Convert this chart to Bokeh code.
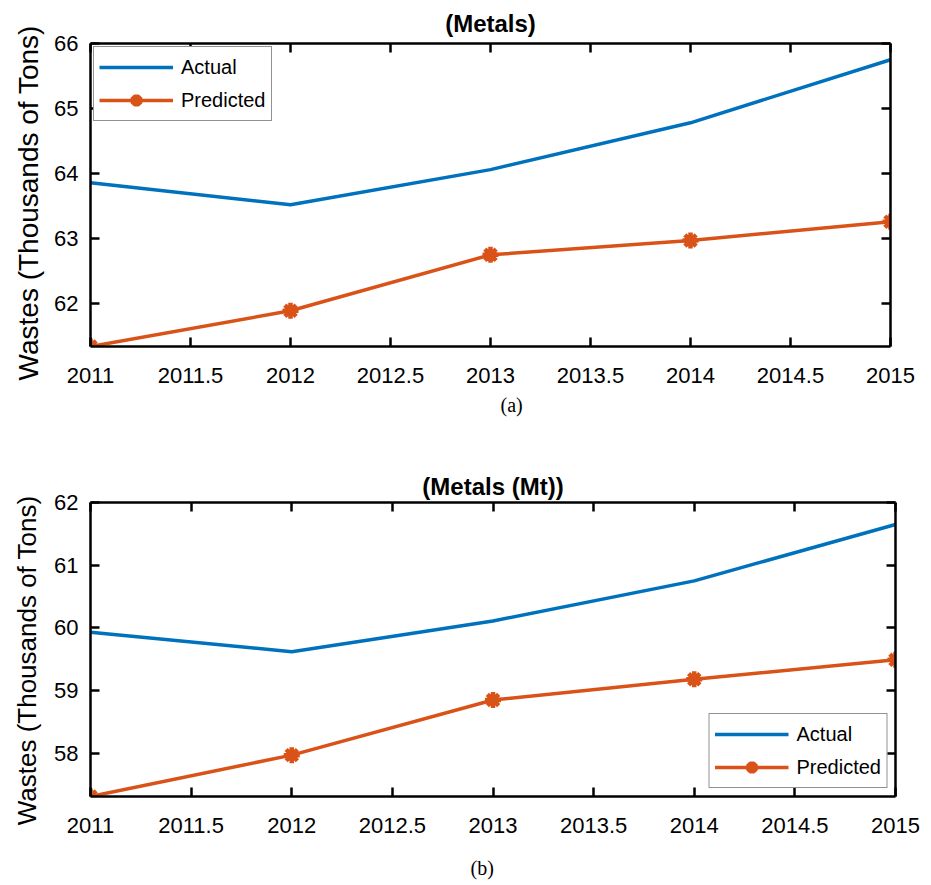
from bokeh.plotting import figure
from bokeh.layouts import column
from bokeh.models import (FixedTicker, LinearAxis, Range1d, Title, Legend,
                          LegendItem, CustomJSTickFormatter)
from bokeh.embed import file_html
from bokeh.resources import INLINE

years = [2011, 2012, 2013, 2014, 2015]
actual_a = [63.86, 63.52, 64.06, 64.78, 65.75]
pred_a = [61.34, 61.89, 62.75, 62.97, 63.26]
actual_b = [59.93, 59.62, 60.11, 60.75, 61.65]
pred_b = [57.31, 57.97, 58.85, 59.18, 59.49]

x_ticks = [2011, 2011.5, 2012, 2012.5, 2013, 2013.5, 2014, 2014.5, 2015]
x_tick_labels = ["2011", "2011.5", "2012", "2012.5", "2013", "2013.5", "2014", "2014.5", "2015"]
y_ticks_a = [62, 63, 64, 65, 66]
y_ticks_b = [58, 59, 60, 61, 62]
y_range_a = (61.34, 66)
y_range_b = (57.31, 62)

titles = ["(Metals)", "(Metals (Mt))"]
ylabels = ["Wastes (Thousands  of  Tons)", "Wastes  (Thousands  of  Tons)"]
captions = ["(a)", "(b)"]
series_names = ["Actual", "Predicted"]

BLUE = "#0072BD"
ORANGE = "#D95319"
FONT = "Liberation Sans"


def style_axis(ax):
    ax.axis_line_width = 2.5
    ax.axis_line_color = "black"
    ax.major_tick_in = 9
    ax.major_tick_out = 0
    ax.major_tick_line_width = 2.5
    ax.major_tick_line_color = "black"
    ax.minor_tick_line_color = None


def make_panel(title, ylabel, actual, pred, yticks, yrange, caption,
               legend_loc, fw, fh, bl, bt, bb, br, cap_off, cap_standoff,
               title_standoff, ylabel_size, ylabel_standoff):
    p = figure(frame_width=fw, frame_height=fh, min_border_left=bl,
               min_border_top=bt, min_border_bottom=bb, min_border_right=br,
               x_range=Range1d(years[0], years[-1]),
               y_range=Range1d(*yrange),
               output_backend="svg", toolbar_location=None,
               background_fill_color="white", border_fill_color="white")
    p.outline_line_color = None
    p.xgrid.visible = False
    p.ygrid.visible = False

    p.title.text = title
    p.title.align = "center"
    p.title.text_font = FONT
    p.title.text_font_size = "24px"
    p.title.text_font_style = "bold"
    p.title.text_color = "black"
    p.title.standoff = title_standoff

    xa = p.xaxis[0]
    xa.ticker = FixedTicker(ticks=x_ticks)
    xa.major_label_overrides = {t: l for t, l in zip(x_ticks, x_tick_labels)}
    style_axis(xa)
    xa.major_label_text_font = FONT
    xa.major_label_text_font_size = "22px"
    xa.major_label_text_color = "black"
    xa.major_label_standoff = 21

    ya = p.yaxis[0]
    ya.ticker = FixedTicker(ticks=yticks)
    style_axis(ya)
    ya.major_label_text_font = FONT
    ya.major_label_text_font_size = "22px"
    ya.major_label_text_color = "black"
    ya.major_label_standoff = 12
    ya.axis_label = ylabel
    ya.axis_label_text_font = FONT
    ya.axis_label_text_font_size = ylabel_size
    ya.axis_label_text_font_style = "normal"
    ya.axis_label_text_color = "black"
    ya.axis_label_standoff = ylabel_standoff

    blank = CustomJSTickFormatter(code="return '';")
    top = LinearAxis(ticker=FixedTicker(ticks=x_ticks), formatter=blank,
                     major_label_text_font_size="1px", major_label_standoff=0)
    right = LinearAxis(ticker=FixedTicker(ticks=yticks), formatter=blank,
                       major_label_text_font_size="1px", major_label_standoff=0)
    style_axis(top)
    style_axis(right)
    p.add_layout(top, "above")
    p.add_layout(right, "right")

    r1 = p.line(years, actual, line_color=BLUE, line_width=3.5)
    r2 = p.line(years, pred, line_color=ORANGE, line_width=3.5)
    r3 = p.scatter(years, pred, marker="asterisk", size=16, line_color=ORANGE,
                   line_width=4.5)

    legend = Legend(items=[LegendItem(label=series_names[0], renderers=[r1]),
                           LegendItem(label=series_names[1], renderers=[r2, r3])],
                    location=legend_loc)
    legend.border_line_color = "#262626"
    legend.border_line_width = 1
    legend.background_fill_color = "white"
    legend.background_fill_alpha = 1
    legend.label_text_font = FONT
    legend.label_text_font_size = "20px"
    legend.label_text_color = "black"
    legend.glyph_width = 74
    legend.glyph_height = 30
    legend.label_height = 23
    legend.label_standoff = 8
    legend.padding = 5
    legend.spacing = 3
    legend.margin = 3 if legend_loc == "top_left" else 8
    p.add_layout(legend)

    cap = Title(text=caption, align="left", offset=cap_off,
                text_font="Liberation Serif", text_font_size="20px",
                text_font_style="normal", text_color="black",
                standoff=cap_standoff)
    p.add_layout(cap, "below")
    return p


p1 = make_panel(titles[0], ylabels[0], actual_a, pred_a, y_ticks_a, y_range_a,
                captions[0], "top_left", 800, 303, 90, 43, 94, 35, 410, 12,
                14, "28px", 7)
p2 = make_panel(titles[1], ylabels[1], actual_b, pred_b, y_ticks_b, y_range_b,
                captions[1], "bottom_right", 805, 294, 88, 62, 85, 32, 380, 38,
                6, "26px", 9)

layout = column(p1, p2, spacing=0)
open("out.html", "w").write(file_html(layout, INLINE))
